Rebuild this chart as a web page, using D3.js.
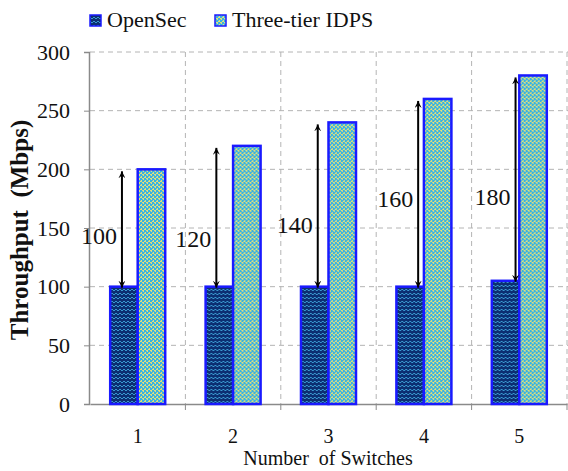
<!DOCTYPE html>
<html>
<head>
<meta charset="utf-8">
<script src="https://cdn.jsdelivr.net/npm/d3@7"></script>
<style>
  body { margin: 0; background: #fff; }
  svg text { font-family: "Liberation Serif", "DejaVu Serif", serif !important; fill: #111; }
</style>
</head>
<body>
<div id="chart"></div>
<script>
// data
const switches = ["1", "2", "3", "4", "5"];
const openSec = [100, 100, 100, 100, 105];
const threeTier = [200, 220, 240, 260, 280];
const gapLabels = ["100", "120", "140", "160", "180"];
const yTicks = [0, 50, 100, 150, 200, 250, 300];
const seriesNames = ["OpenSec", "Three-tier IDPS"];

// where the gap arrows and their labels sit (layout only)
const arrowShift = [-2, -3, 3, 8, 10];
const labelLevel = [136, 134, 146, 168, 170];

const W = 568, H = 471;
const margin = {top: 52, right: 1, bottom: 67, left: 90};

const svg = d3.select("#chart").append("svg")
    .attr("width", W).attr("height", H);

// fill patterns
const defs = svg.append("defs");
const p1 = defs.append("pattern").attr("id", "wave")
    .attr("patternUnits", "userSpaceOnUse").attr("width", 4).attr("height", 4);
p1.append("rect").attr("width", 4).attr("height", 4).attr("fill", "#0c2f72");
p1.append("path").attr("d", "M0,3 L2,1 L4,3").attr("fill", "none")
    .attr("stroke", "#3a98d0").attr("stroke-width", 1);

const p2 = defs.append("pattern").attr("id", "dots")
    .attr("patternUnits", "userSpaceOnUse").attr("width", 4).attr("height", 4);
p2.append("rect").attr("width", 4).attr("height", 4).attr("fill", "#e2e07a");
p2.append("rect").attr("x", 0).attr("y", 0).attr("width", 2).attr("height", 2).attr("fill", "#38b2e2");
p2.append("rect").attr("x", 2).attr("y", 2).attr("width", 2).attr("height", 2).attr("fill", "#38b2e2");
p2.append("rect").attr("x", 2).attr("y", 0).attr("width", 1).attr("height", 1).attr("fill", "#56bcd8");
p2.append("rect").attr("x", 0).attr("y", 3).attr("width", 1).attr("height", 1).attr("fill", "#56bcd8");

const fills = ["url(#wave)", "url(#dots)"];

defs.append("marker").attr("id", "head")
    .attr("viewBox", "0 0 10 10").attr("refX", 10).attr("refY", 5)
    .attr("markerWidth", 7).attr("markerHeight", 7)
    .attr("markerUnits", "userSpaceOnUse")
    .attr("orient", "auto-start-reverse")
  .append("path").attr("d", "M0,0 L10,5 L0,10 L4,5 Z").attr("fill", "#000");

// scales
const x = d3.scaleBand().domain(switches).range([margin.left, W - margin.right]).padding(0);
const bw = x.bandwidth();
const x1 = d3.scaleBand().domain(seriesNames).range([bw / 2 - 27.5, bw / 2 + 27.5]);
const y = d3.scaleLinear().domain([0, 300]).range([H - margin.bottom, margin.top]);

// grid
const grid = svg.append("g").attr("stroke", "#b4b4b4").attr("stroke-dasharray", "5,4");
grid.selectAll("line.h").data(yTicks.slice(1)).enter().append("line")
    .attr("x1", margin.left).attr("x2", W)
    .attr("y1", d => y(d)).attr("y2", d => y(d));
grid.selectAll("line.v").data(switches).enter().append("line")
    .attr("x1", d => x(d) + bw).attr("x2", d => x(d) + bw)
    .attr("y1", y(300)).attr("y2", y(0));

// axes
const yAxis = svg.append("g")
    .attr("transform", "translate(" + (margin.left - 1) + ",0)")
    .call(d3.axisLeft(y).tickValues(yTicks).tickSize(5).tickPadding(14));
yAxis.select(".domain").attr("stroke", "#8a8a8a").attr("stroke-width", 1.5);
yAxis.selectAll(".tick line").attr("stroke", "#8a8a8a");
yAxis.selectAll("text").style("font-size", "22px").attr("fill", "#111");

const xAxis = svg.append("g")
    .attr("transform", "translate(0," + y(0) + ")")
    .call(d3.axisBottom(x).tickSize(0).tickPadding(25));
xAxis.select(".domain").attr("stroke", "#8a8a8a").attr("stroke-width", 1.5);
xAxis.selectAll("text").style("font-size", "20px").attr("fill", "#111");
svg.append("g").selectAll("line").data(switches).enter().append("line")
    .attr("x1", d => x(d) + bw).attr("x2", d => x(d) + bw)
    .attr("y1", y(0)).attr("y2", y(0) + 6)
    .attr("stroke", "#8a8a8a");

// bars
const rows = switches.map((s, i) => ({s: s, vals: [openSec[i], threeTier[i]]}));
const groups = svg.append("g").selectAll("g").data(rows).enter().append("g")
    .attr("transform", d => "translate(" + x(d.s) + ",0)");
groups.selectAll("rect").data(d => d.vals.map((v, k) => ({k: k, v: v}))).enter().append("rect")
    .attr("x", d => x1(seriesNames[d.k]))
    .attr("width", x1.bandwidth())
    .attr("y", d => y(d.v))
    .attr("height", d => y(0) - y(d.v))
    .attr("fill", d => fills[d.k])
    .attr("stroke", "#1a1aff").attr("stroke-width", 2.5);

// gap arrows
switches.forEach((s, i) => {
    const ax = x(s) + x1("OpenSec") + x1.bandwidth() / 2 + arrowShift[i];
    svg.append("line")
        .attr("x1", ax).attr("x2", ax)
        .attr("y1", y(openSec[i]) + 1).attr("y2", y(threeTier[i]) + 2)
        .attr("stroke", "#000").attr("stroke-width", 2)
        .attr("marker-start", "url(#head)").attr("marker-end", "url(#head)");
    svg.append("text")
        .attr("x", ax - 5).attr("y", y(labelLevel[i]))
        .attr("text-anchor", "end")
        .style("font-size", "24px")
        .text(gapLabels[i]);
});

// axis titles
svg.append("text")
    .attr("x", 328).attr("y", 465)
    .attr("text-anchor", "middle").style("font-size", "20px")
    .attr("xml:space", "preserve")
    .text("Number  of Switches");
svg.append("text")
    .attr("transform", "translate(28,230) rotate(-90)")
    .attr("text-anchor", "middle").style("font-size", "25px")
    .style("font-weight", "bold").attr("xml:space", "preserve")
    .text("Throughput  (Mbps)");

// legend
const legX = [90, 215];
seriesNames.forEach((n, k) => {
    svg.append("rect")
        .attr("x", legX[k]).attr("y", 15).attr("width", 11).attr("height", 11)
        .attr("fill", fills[k]).attr("stroke", "#1a1aff").attr("stroke-width", 1.5);
    svg.append("text")
        .attr("x", legX[k] + 17).attr("y", 27)
        .style("font-size", "22px")
        .text(n);
});
</script>
</body>
</html>
